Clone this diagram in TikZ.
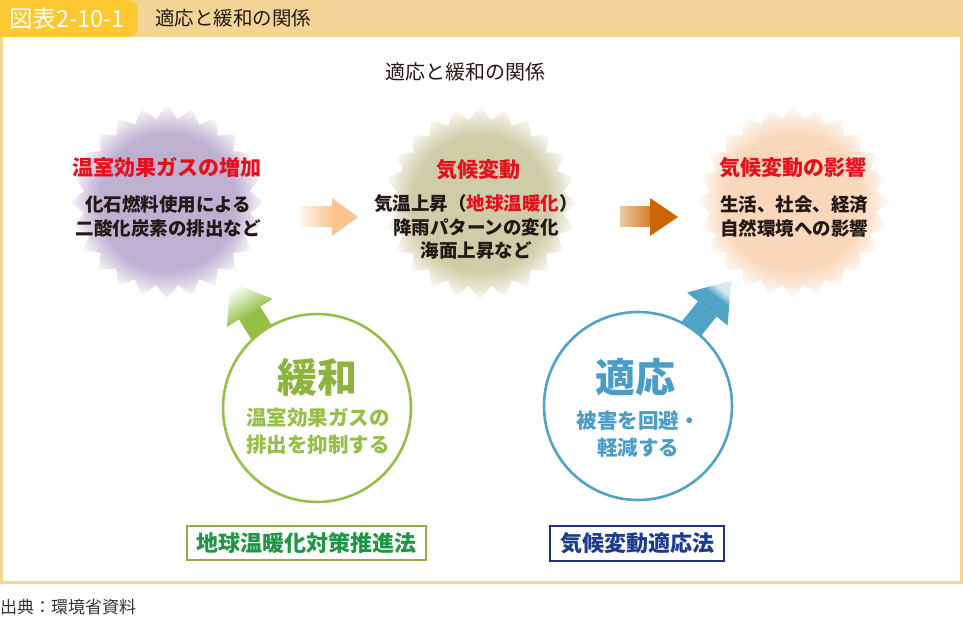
\documentclass[tikz,border=0pt]{standalone}
\usepackage{fontspec}
\setmainfont{Noto Sans CJK JP}
\usetikzlibrary{shapes.geometric}
\definecolor{cTan}{HTML}{F2D596}
\definecolor{cYel}{HTML}{FDC832}
\definecolor{cRed}{HTML}{E60F1E}
\definecolor{cTxt}{HTML}{231815}
\definecolor{cPur}{HTML}{BDB0D1}
\definecolor{cKha}{HTML}{CFCDA8}
\definecolor{cPea}{HTML}{F9D7BA}
\definecolor{cAr1}{HTML}{FCC48E}
\definecolor{cAr2}{HTML}{CC6600}
\definecolor{cGrn}{HTML}{96BF48}
\definecolor{cGrnT}{HTML}{8CB43F}
\definecolor{cBlu}{HTML}{4FA3C4}
\definecolor{cBluT}{HTML}{4A9DC6}
\definecolor{cLawG}{HTML}{A7A245}
\definecolor{cLawGT}{HTML}{1E9646}
\definecolor{cLawB}{HTML}{22307A}
\definecolor{cLawBT}{HTML}{1E3C8C}
\pgfdeclareradialshading{purstar}{\pgfpointorigin}{color(0bp)=(cPur); color(17.5bp)=(cPur); color(21bp)=(cPur!60!white); color(25bp)=(cPur!6!white); color(50bp)=(white)}
\pgfdeclareradialshading{khastar}{\pgfpointorigin}{color(0bp)=(cKha); color(17.5bp)=(cKha); color(21bp)=(cKha!60!white); color(25bp)=(cKha!6!white); color(50bp)=(white)}
\pgfdeclareradialshading{peastar}{\pgfpointorigin}{color(0bp)=(cPea); color(17.5bp)=(cPea); color(21bp)=(cPea!60!white); color(25bp)=(cPea!6!white); color(50bp)=(white)}
\pgfdeclareverticalshading{bluhead}{100bp}{color(0bp)=(cBlu); color(60bp)=(cBlu); color(70bp)=(cBlu!25!white); color(100bp)=(cBlu!10!white)}
\pgfdeclareverticalshading{grnhead}{100bp}{color(0bp)=(cGrn); color(40bp)=(cGrn); color(58bp)=(cGrn!45!white); color(75bp)=(white); color(100bp)=(white)}
\tikzset{
  burst/.style={star, star points=24, star point ratio=1.16, minimum size=194pt, inner sep=0pt, draw=none},
  sttitle/.style={text=cRed, font=\fontsize{21}{25}\selectfont\bfseries, inner sep=0pt},
  stbody/.style={text=cTxt, font=\fontsize{18.5}{23.2}\selectfont\bfseries, align=center, inner sep=0pt},
  ring/.style={circle, minimum size=188pt, line width=2.6pt, fill=white, inner sep=0pt},
  bigword/.style={font=\fontsize{40}{44}\selectfont\bfseries, inner sep=0pt},
  smallword/.style={font=\fontsize{20.5}{27}\selectfont\bfseries, align=center, inner sep=0pt},
  lawbox/.style={draw, line width=2.6pt, fill=white, inner sep=0pt, font=\fontsize{22}{26}\selectfont\bfseries},
}
\begin{document}
\begin{tikzpicture}[x=1pt,y=-1pt]
\useasboundingbox (0,0) rectangle (963,617);
% frame and header
\fill[cTan] (0,0) rectangle (963,584);
\fill[white] (3,37) rectangle (960,581);
\begin{scope}
\clip (0,0) rectangle (963,40);
\fill[cYel, rounded corners=10pt] (-20,0) rectangle (138,37);
\end{scope}
\node[anchor=west, text=white, font=\fontsize{23.5}{27}\selectfont, inner sep=0pt] (hlabel) at (9,18.5) {図表2-10-1};
\node[anchor=west, text=cTxt, font=\fontsize{19.5}{24}\selectfont, inner sep=0pt] (htitle) at (155,18.5) {適応と緩和の関係};
\node[text=cTxt, font=\fontsize{20}{24}\selectfont, inner sep=0pt] (subtitle) at (465,72) {適応と緩和の関係};
\node[anchor=west, text=black!80, font=\fontsize{17}{20}\selectfont, inner sep=0pt] (source) at (0,607) {出典：環境省資料};
% starbursts
\node[burst, shading=purstar] (s1) at (167,202) {};
\node[burst, shading=khastar] (s2) at (480,203) {};
\node[burst, shading=peastar] (s3) at (793,202) {};
\node[sttitle] (t1) at (167,168) {温室効果ガスの増加};
\node[stbody] (b1) at (168,216.5) {化石燃料使用による\\二酸化炭素の排出など};
\node[sttitle] (t2) at (478,170) {気候変動};
\node[stbody] (b2) at (476,227) {気温上昇（\textcolor{cRed}{地球温暖化}）\\降雨パターンの変化\\海面上昇など};
\node[sttitle] (t3) at (793,168) {気候変動の影響};
\node[stbody] (b3) at (794,216.5) {生活、社会、経済\\自然環境への影響};
% horizontal arrows
\shade[left color=cAr1!15!white, right color=cAr1] (300,207) rectangle (333,227);
\fill[cAr1] (332,198) -- (358,217) -- (332,236) -- cycle;
\shade[left color=cAr2!35!white, right color=cAr2!85!white] (620,207) rectangle (651,227);
\fill[cAr2] (650,198) -- (678,217) -- (650,236) -- cycle;
% green arrow
\fill[cGrn] (260.3,306.5) -- (239.1,319.5) -- (259.9,353.5) -- (281.1,340.5) -- cycle;
\shade[shading=grnhead, shading angle=31.5] (230.6,281.8) -- (272.6,299.0) -- (226.8,327.0) -- cycle;
% blue arrow
\fill[cBlu] (716.6,316.6) -- (698.0,301.4) -- (672.8,332.5) -- (691.4,347.7) -- cycle;
\shade[shading=bluhead, shading angle=-39] (731.5,280.5) -- (727.5,325.4) -- (687.1,292.6) -- cycle;
% circles
\node[ring, draw=cGrn] (c1) at (317,408) {};
\node[ring, draw=cBlu] (c2) at (638,406) {};
\node[bigword, text=cGrnT] (w1) at (317,377) {緩和};
\node[smallword, text=cGrn] (d1) at (318,431.5) {温室効果ガスの\\排出を抑制する};
\node[bigword, text=cBluT] (w2) at (635,377) {適応};
\node[smallword, text=cBluT] (d2) at (638,434.5) {被害を回避・\\軽減する};
% law boxes
\node[lawbox, draw=cLawG, text=cLawGT, minimum width=239pt, minimum height=34pt] (law1) at (306.5,543) {地球温暖化対策推進法};
\node[lawbox, draw=cLawB, text=cLawBT, line width=2.2pt, minimum width=174pt, minimum height=35pt] (law2) at (637,543.5) {気候変動適応法};
\end{tikzpicture}
\end{document}
